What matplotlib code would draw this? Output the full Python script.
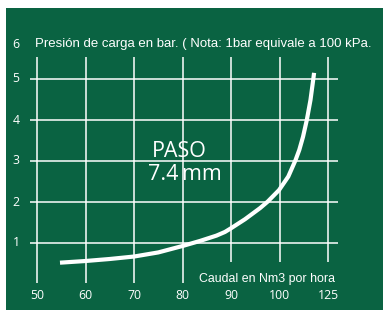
import matplotlib
matplotlib.use('Agg')
import matplotlib.pyplot as plt

# ---- data ----
x_ticks = [50, 60, 70, 80, 90, 100, 110]
x_labels = ['50', '60', '70', '80', '90', '100', '125']
y_ticks = [1, 2, 3, 4, 5]
y_labels = ['1', '2', '3', '4', '5', '6']

flow = [54.74, 59.9, 65.0, 70.0, 75.0, 80.1, 83.6, 87.0, 88.76, 90.14, 92.89,
        95.98, 97.57, 99.9, 101.81, 103.3, 104.08, 104.85, 105.63, 106.39,
        106.97, 107.13]
pressure = [0.52, 0.56, 0.61, 0.67, 0.77, 0.93, 1.05, 1.18, 1.27, 1.37, 1.58,
            1.85, 2.01, 2.29, 2.62, 3.02, 3.27, 3.59, 4.0, 4.49, 5.0, 5.15]

title = 'Presión de carga en bar. ( Nota: 1bar equivale a 100 kPa.'
xlabel = 'Caudal en Nm3 por hora'
paso = ['PASO', '7.4\u2009mm']

GREEN = '#0a6342'
W, H = 383, 311

fig = plt.figure(figsize=(W / 100, H / 100), dpi=100, facecolor='white')
# green panel from px x 6..383, y 8..310
ax = fig.add_axes([6 / W, 1 / H, 377 / W, 302 / H])
ax.set_facecolor(GREEN)
for s in ax.spines.values():
    s.set_visible(False)
ax.set_xticks([])
ax.set_yticks([])

# pixel -> data mapping: x px = 37 + (v-50)*4.85 ; y px = 284 - v*41
ax.set_xlim(50 + (6 - 37) / 4.85, 50 + (383 - 37) / 4.85)
ax.set_ylim((284 - 310) / 41, (284 - 8) / 41)

lw_grid = 1.1
# horizontal grid lines
ax.hlines(y_ticks, 48.56, 112.06, color='white', lw=lw_grid)
# vertical grid lines
for xv in x_ticks:
    bottom = 0.02 if xv <= 80 else 0.54
    ax.vlines(xv, bottom, 5.54, color='white', lw=lw_grid)

# curve
ax.plot(flow, pressure, color='white', lw=3.0, solid_capstyle='butt',
        solid_joinstyle='round')

num_font = 'Open Sans'
# x tick labels
for xv, lab in zip(x_ticks, x_labels):
    ax.text(xv, -0.27, lab, color='white', fontsize=8.8, family=num_font,
            ha='center', va='center')
# y tick labels
for i, lab in enumerate(y_labels):
    yv = i + 1 if i + 1 <= 5 else (284 - 45) / 41
    ax.text(50 + (16 - 37) / 4.85, yv, lab, color='white', fontsize=8.8,
            family=num_font, ha='center', va='center')

# title line
ax.text(50 + (35 - 37) / 4.85, (284 - 47) / 41, title, color='white',
        fontsize=9.55, family='Liberation Sans', ha='left', va='baseline')
# x axis label
ax.text(50 + (199 - 37) / 4.85, (284 - 281.7) / 41, xlabel, color='white',
        fontsize=8.9, family='Liberation Sans', ha='left', va='baseline')

# PASO annotation
ax.text(50 + (179.5 - 37) / 4.85, (284 - 156.7) / 41, paso[0], color='white',
        fontsize=15.5, family='Open Sans', ha='center', va='baseline')
ax.text(50 + (184.5 - 37) / 4.85, (284 - 180) / 41, paso[1], color='white',
        fontsize=15.5, family=['Open Sans', 'DejaVu Sans'], ha='center', va='baseline')

fig.savefig('out.png', dpi=100, facecolor='white')
